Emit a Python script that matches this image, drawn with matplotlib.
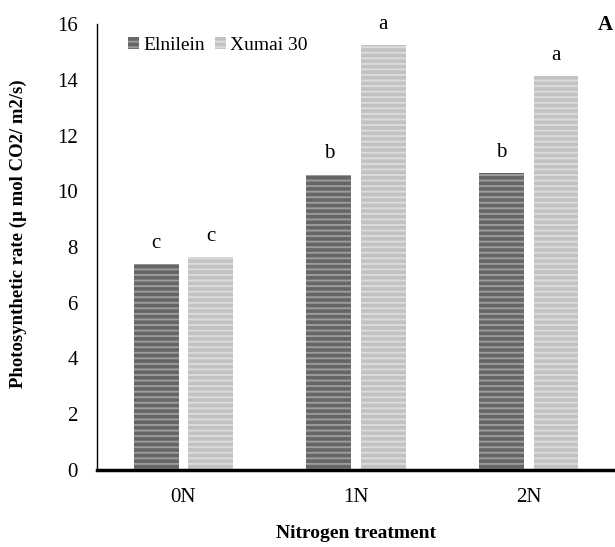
import matplotlib

matplotlib.use("Agg")
import matplotlib.pyplot as plt
import numpy as np

plt.rcParams["font.family"] = ["Liberation Serif", "DejaVu Serif"]
plt.rcParams["hatch.linewidth"] = 1.4

treatments = ["0N", "1N", "2N"]
elnilein = [7.4, 10.6, 10.65]
xumai = [7.63, 15.25, 14.15]
elnilein_letters = ["c", "b", "b"]
xumai_letters = ["c", "a", "a"]

DARK = "#666666"
DARK_STRIPE = "#9c9c9c"
LIGHT = "#c2c2c2"
LIGHT_STRIPE = "#dcdcdc"

fig = plt.figure(figsize=(6.15, 5.47), dpi=100)
ax = fig.add_axes([0.158, 0.141, 0.842, 0.815])

x = np.arange(len(treatments))
w = 0.26
off = 0.158
b1 = ax.bar(x - off, elnilein, w, color=DARK, edgecolor=DARK_STRIPE, linewidth=0,
            hatch="---", label="Elnilein")
b2 = ax.bar(x + off, xumai, w, color=LIGHT, edgecolor=LIGHT_STRIPE, linewidth=0,
            hatch="---", label="Xumai 30")

for bars, letters in [(b1, elnilein_letters), (b2, xumai_letters)]:
    for bar, letter in zip(bars, letters):
        ax.annotate(letter, (bar.get_x() + bar.get_width() / 2, bar.get_height()),
                    xytext=(0, 8), textcoords="offset points",
                    ha="center", va="bottom", fontsize=15)

ax.set_xlim(-0.5, 2.5)
ax.set_ylim(0, 16)
ax.set_yticks(range(0, 17, 2))
ax.set_xticks(x)
ax.set_xticklabels(treatments)
ax.tick_params(axis="both", length=0, labelsize=15)
ax.tick_params(axis="y", pad=14)
ax.tick_params(axis="x", pad=13)

ax.spines["top"].set_visible(False)
ax.spines["right"].set_visible(False)
ax.spines["left"].set_linewidth(1.0)
ax.spines["bottom"].set_linewidth(2.5)

ax.set_xlabel("Nitrogen treatment", fontsize=14, fontweight="bold", labelpad=13)
ax.set_ylabel("Photosynthetic rate (\u00b5 mol CO2/ m2/s)", fontsize=13.5,
              fontweight="bold", labelpad=18)
ax.yaxis.set_label_coords(-0.135, 0.53)

ax.legend(loc="upper left", bbox_to_anchor=(0.025, 1.01), ncol=2, frameon=False,
          fontsize=14, handlelength=0.6, handleheight=0.6, handletextpad=0.2,
          columnspacing=0.5)

fig.text(0.985, 0.955, "A", fontsize=15, fontweight="bold", ha="center", va="center")

fig.savefig("out.png", dpi=100)
